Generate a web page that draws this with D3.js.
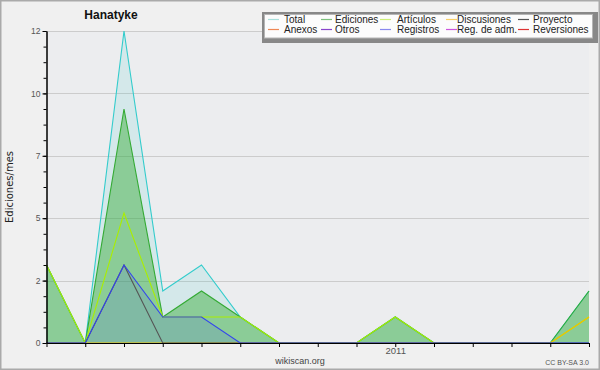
<!DOCTYPE html>
<html lang="es">
<head>
  <meta charset="UTF-8" />
  <title>Hanatyke - Ediciones/mes</title>
  <style>
    body { margin: 0; background: #f0f0f0; }
    svg { display: block; font-family: "Liberation Sans", Arial, sans-serif; }
    .axis path, .axis line { stroke: #000; }
    .axis text { fill: #555; }
  </style>
</head>
<body>
  <svg id="chart"></svg>

  <script src="https://d3js.org/d3.v7.min.js"></script>
  <script>
    // months Apr 2010 .. Jun 2011
    const months = ["2010-04", "2010-05", "2010-06", "2010-07", "2010-08", "2010-09", "2010-10",
      "2010-11", "2010-12", "2011-01", "2011-02", "2011-03", "2011-04", "2011-05", "2011-06"];

    const total       = [3, 0, 12, 2, 3, 1, 0, 0, 0, 1, 0, 0, 0, 0, 2];
    const ediciones   = [3, 0, 9, 1, 2, 1, 0, 0, 0, 1, 0, 0, 0, 0, 2];
    const articulos   = [3, 0, 5, 1, 1, 1, 0, 0, 0, 1, 0, 0, 0, 0, 1];
    const discusiones = [0, 0, 0, 0, 0, 0, 0, 0, 0, 0, 0, 0, 0, 0, 1];
    const proyecto    = [0, 0, 3, 0, 0, 0, 0, 0, 0, 0, 0, 0, 0, 0, 0];
    const registros   = [0, 0, 3, 1, 1, 0, 0, 0, 0, 0, 0, 0, 0, 0, 0];

    const yTicks = [0, 2.4, 4.8, 7.2, 9.6, 12];
    const yTickLabels = ["0", "2", "5", "7", "10", "12"];
    const yMinorStep = 0.6;

    const legendNames = [
      ["Total", "Ediciones", "Artículos", "Discusiones", "Proyecto"],
      ["Anexos", "Otros", "Registros", "Reg. de adm.", "Reversiones"]
    ];
    const legendColors = [
      ["#a8e0dc", "#7cc07c", "#cdee77", "#f8cf66", "#555555"],
      ["#ee8855", "#8844cc", "#8888ee", "#cc55dd", "#dd3333"]
    ];

    const W = 600, H = 370;
    const plot = { left: 46.5, right: 589, top: 31, bottom: 343 };

    const svg = d3.select("#chart").attr("width", W).attr("height", H);

    svg.append("rect")
      .attr("x", 0.75).attr("y", 0.75)
      .attr("width", W - 1.5).attr("height", H - 1.5)
      .attr("fill", "#f0f0f0").attr("stroke", "#aaa").attr("stroke-width", 1.5);

    svg.append("rect")
      .attr("x", plot.left).attr("y", plot.top)
      .attr("width", plot.right - plot.left).attr("height", plot.bottom - plot.top)
      .attr("fill", "#ecedef");

    const x = d3.scalePoint().domain(months).range([plot.left, plot.right]);
    const y = d3.scaleLinear().domain([0, 12]).range([plot.bottom, plot.top]);

    // grid
    svg.append("g").selectAll("line")
      .data(yTicks.filter(d => d > 0))
      .join("line")
      .attr("x1", plot.left).attr("x2", plot.right)
      .attr("y1", d => Math.round(y(d)) + 0.5).attr("y2", d => Math.round(y(d)) + 0.5)
      .attr("stroke", "#cccccc");

    // areas
    const area = d3.area()
      .x((d, i) => x(months[i]))
      .y0(y(0))
      .y1(d => y(d));

    const areas = [
      { values: total, color: "#33cccc", opacity: 0.13 },
      { values: ediciones, color: "#33aa33", opacity: 0.45 },
      { values: registros, color: "#3344ff", opacity: 0.13 }
    ];
    svg.append("g").selectAll("path")
      .data(areas)
      .join("path")
      .attr("d", d => area(d.values))
      .attr("fill", d => d.color)
      .attr("fill-opacity", d => d.opacity);

    // lines
    const line = d3.line()
      .x((d, i) => x(months[i]))
      .y(d => y(d));

    const lines = [
      { values: total, color: "#33cccc" },
      { values: ediciones, color: "#33aa33" },
      { values: articulos, color: "#aaee00" },
      { values: discusiones, color: "#f2c200" },
      { values: proyecto, color: "#555555" },
      { values: registros, color: "#3344ee" }
    ];
    svg.append("g").selectAll("path")
      .data(lines)
      .join("path")
      .attr("d", d => line(d.values))
      .attr("fill", "none")
      .attr("stroke", d => d.color)
      .attr("stroke-width", 1.1);

    // axes
    svg.append("g")
      .attr("class", "axis")
      .attr("transform", `translate(0,${plot.bottom})`)
      .call(d3.axisBottom(x).tickSize(4).tickPadding(0).tickSizeOuter(0)
        .tickFormat(d => d === "2011-01" ? "2011" : ""))
      .call(g => g.selectAll("text").attr("font-size", 9.5).attr("fill", "#444"));

    const minor = d3.range(0, 12 + 0.001, yMinorStep);
    svg.append("g")
      .attr("class", "axis")
      .attr("transform", `translate(${plot.left},0)`)
      .call(d3.axisLeft(y).tickValues(minor).tickSize(3).tickSizeOuter(0).tickFormat(""));

    svg.append("g")
      .attr("class", "axis")
      .attr("transform", `translate(${plot.left},0)`)
      .call(d3.axisLeft(y).tickValues(yTicks).tickSize(4).tickPadding(2).tickSizeOuter(0)
        .tickFormat((d, i) => yTickLabels[i]))
      .call(g => g.selectAll("text").attr("font-size", 8.5).attr("fill", "#555"));

    // title and labels
    svg.append("text")
      .attr("x", 111).attr("y", 18.5)
      .attr("text-anchor", "middle")
      .attr("font-size", 12).attr("font-weight", "bold").attr("fill", "#111")
      .text("Hanatyke");

    svg.append("text")
      .attr("transform", "translate(13,187) rotate(-90)")
      .attr("text-anchor", "middle")
      .attr("font-family", "DejaVu Sans")
      .attr("font-size", 10).attr("fill", "#222")
      .text("Ediciones/mes");

    svg.append("text")
      .attr("x", 300).attr("y", 364)
      .attr("text-anchor", "middle")
      .attr("font-size", 9).attr("fill", "#444")
      .text("wikiscan.org");

    svg.append("text")
      .attr("x", 589).attr("y", 365)
      .attr("text-anchor", "end")
      .attr("font-size", 7).attr("fill", "#555")
      .text("CC BY-SA 3.0");

    // legend
    const legend = svg.append("g");
    legend.append("rect")
      .attr("x", 262).attr("y", 12).attr("width", 336).attr("height", 31)
      .attr("fill", "#888");
    legend.append("rect")
      .attr("x", 264.5).attr("y", 14.5).attr("width", 328).attr("height", 23.5)
      .attr("fill", "#fcfcfc").attr("stroke", "#b5b5b5");

    const colLine = [268, 321, 380, 446, 518];
    const colText = [284, 335, 397, 457, 533];
    legendNames.forEach((row, r) => {
      row.forEach((name, c) => {
        const ly = 19.5 + r * 10;
        legend.append("line")
          .attr("x1", colLine[c]).attr("x2", colLine[c] + 11)
          .attr("y1", ly).attr("y2", ly)
          .attr("stroke", legendColors[r][c]).attr("stroke-width", 1.2);
        legend.append("text")
          .attr("x", colText[c]).attr("y", 23 + r * 10)
          .attr("font-size", 10).attr("fill", "#222")
          .text(name);
      });
    });
  </script>
</body>
</html>
